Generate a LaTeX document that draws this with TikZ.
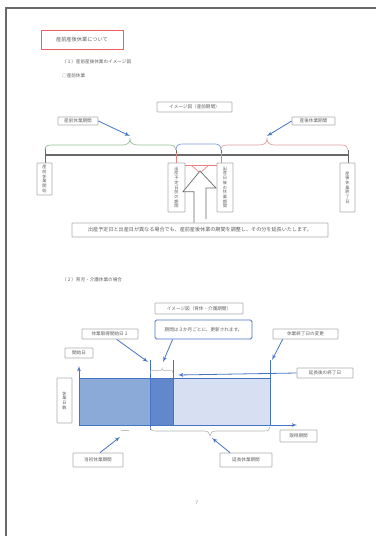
\documentclass[tikz,border=0pt]{standalone}
\usepackage{fontspec}
\setmainfont{Noto Sans CJK JP}
\usetikzlibrary{shapes.geometric, arrows}
\definecolor{docGray}{RGB}{105, 105, 105}
\definecolor{docText}{RGB}{95, 95, 95}
\definecolor{docRed}{RGB}{232, 96, 96}
\definecolor{docBlue}{RGB}{70, 116, 196}
\definecolor{docGreen}{RGB}{150, 190, 150}
\definecolor{docPink}{RGB}{225, 160, 160}
\definecolor{fillMid}{RGB}{140, 170, 215}
\definecolor{fillDark}{RGB}{98, 136, 204}
\definecolor{fillLight}{RGB}{214, 224, 242}

\begin{document}
\begin{tikzpicture}[x=1pt, y=-1pt, font=\fontsize{4.6}{5.2}\selectfont, text=docText]
                    \tikzstyle{block} = [draw=gray!65, fill=white, line width=0.7pt, inner sep=0.8pt, rounded corners=0.6pt, text centered]
                    \tikzstyle{tate} = [block, align=center, font=\fontsize{4.2}{4.7}\selectfont]
                    \tikzstyle{line} = [draw=docBlue, line width=0.8pt, -latex']
                    \tikzstyle{brace} = [draw, line width=0.7pt]

                    \useasboundingbox (0,0) rectangle (376,536);
                    % page frame
                    \draw [docGray, line width=1.3pt] (6,536) -- (6,8) -- (376,8);

                    \node [draw=docRed, line width=0.9pt, minimum width=82pt, minimum height=19pt, font=\fontsize{5.2}{6}\selectfont] (title) at (82,40) {産前産後休業について};
                    \node [anchor=west, inner sep=0pt] (sub1) at (62,62) {（１）産前産後休業のイメージ図};
                    \node [anchor=west, inner sep=0pt] (sub1b) at (62,76) {○産前休業};

                    % timeline
                    \node [block, minimum width=75pt, minimum height=10pt] (tlhead) at (194.5,107) {イメージ図（産前期間）};
                    \node [block, minimum width=40pt, minimum height=8pt] (prelbl) at (78,121) {産前休業期間};
                    \node [block, minimum width=43pt, minimum height=8pt] (postlbl) at (313.5,121) {産後休業期間};

                    \coordinate (tlL) at (45,155);
                    \coordinate (tlR) at (348,155);
                    \coordinate (tlA) at (176,155);
                    \coordinate (tlB) at (221,155);
                    \draw [docGray, line width=1.1pt] (tlL) -- (tlR);
                    \draw [docGray, line width=0.8pt] ([yshift=-8pt]tlL) -- ([yshift=7pt]tlL);
                    \draw [docGray, line width=0.8pt] ([yshift=-15pt]tlR) -- ([yshift=5pt]tlR);
                    \draw [docGray, line width=0.8pt] ([yshift=-22pt]tlA) -- ([yshift=5pt]tlA);
                    \draw [docGray, line width=0.8pt] ([yshift=-22pt]tlB) -- ([yshift=5pt]tlB);

                    % braces over the timeline
                    \draw [brace, docGreen] (45,150) .. controls (45,146) and (47,145) .. (52,145) -- (122,145) .. controls (127,145) and (130,143) .. (130,139) .. controls (130,143) and (133,145) .. (138,145) -- (170,145) .. controls (174,145) and (176,147) .. (176,150);
                    \draw [brace, docBlue!70] (176,150) .. controls (176,146) and (178,144) .. (182,144) -- (215,144) .. controls (219,144) and (221,146) .. (221,150);
                    \draw [brace, docPink] (221,150) .. controls (221,146) and (223,145) .. (228,145) -- (259,145) .. controls (264,145) and (267,143) .. (267,139) .. controls (267,143) and (270,145) .. (275,145) -- (342,145) .. controls (346,145) and (348,147) .. (348,150);
                    \coordinate (pretip) at (130,136);
                    \coordinate (posttip) at (267,136);
                    \path [line] (prelbl.east) -- (pretip);
                    \path [line] (postlbl.west) -- (posttip);

                    % vertical labels
                    \node [tate, minimum width=15pt, minimum height=32pt] (v1) at (44.5,179) {産\\前\\休\\業\\開\\始};
                    \node [tate, minimum width=17pt, minimum height=49pt] (v2) at (176.5,187.5) {出\\産\\予\\定\\日\\前\\の\\期\\間};
                    \node [tate, minimum width=16pt, minimum height=49pt] (v3) at (225,187.5) {出\\産\\日\\後\\の\\休\\業\\期\\間};
                    \node [tate, minimum width=15pt, minimum height=49pt] (v4) at (347.5,187.5) {産\\後\\休\\業\\終\\了\\日};

                    % red marks
                    \draw [docRed!80, line width=0.6pt] ([yshift=2pt]tlA) -- (v2.north -| tlA);
                    \draw [docRed!80, line width=0.6pt] ([yshift=2pt]tlB) -- (v3.north -| tlB);
                    \coordinate (redtip) at (200,173);
                    \draw [docRed!80, line width=0.6pt] (185,165) -- (217,165);
                    \draw [docRed!80, line width=0.6pt] (191,165) -- (redtip) -- (209,165);

                    \node [block, minimum width=256pt, minimum height=14pt, font=\fontsize{5.1}{6}\selectfont] (note) at (200,230) {出産予定日と出産日が異なる場合でも、産前産後休業の期間を調整し、その分を延長いたします。};
                    % hollow arrow up to the marks
                    \draw [docGray, line width=0.7pt, fill=white] ([xshift=-6pt]note.north) -- ++(0,-31) -- ++(-11,0) -- ([yshift=2pt]redtip) -- ++(16,17) -- ++(-10,0) -- ++(0,31);

                    % second part
                    \node [anchor=west, inner sep=0pt] (sub2) at (62,280) {（２）育児・介護休業の場合};
                    \node [block, minimum width=88pt, minimum height=11pt] (ghead) at (199,308.5) {イメージ図（育休・介護期間）};
                    \node [block, draw=docBlue, line width=0.9pt, rounded corners=1.5pt, minimum width=97pt, minimum height=19pt] (gnote) at (203.5,329.5) {期間は３か月ごとに、更新されます。};
                    \node [block, minimum width=56pt, minimum height=10pt] (gstart) at (110,334) {休業取得開始日１};
                    \node [block, minimum width=28pt, minimum height=10pt] (gday) at (79,353) {開始日};
                    \node [block, minimum width=65pt, minimum height=10pt] (gend) at (305.5,334) {休業終了日の変更};
                    \node [block, minimum width=56pt, minimum height=10pt] (gext) at (325,373) {延長後の終了日};

                    % graph
                    \fill [fillMid] (79,378) rectangle (150,425);
                    \fill [fillDark] (150,378) rectangle (173,425);
                    \fill [fillLight] (173,378) rectangle (270,425);
                    \draw [docBlue, line width=0.8pt] (79,378) rectangle (270,425);
                    \coordinate (org) at (79,425);
                    \coordinate (ytop) at (79,366);
                    \coordinate (xend) at (297,425);
                    \path [line] (org) -- (ytop);
                    \path [line] (org) -- (xend);
                    \draw [docBlue, line width=0.7pt] (150,360) -- (150,430);
                    \draw [docBlue, line width=0.7pt] (173,360) -- (173,425);
                    \draw [docBlue, line width=0.7pt] (270,360) -- (270,425);
                    \coordinate (extpt) at (178,375);
                    \path [line] (gext.west) -- (extpt);
                    \draw [brace, gray!60, line width=0.5pt] (150,373) .. controls (150,371) and (151,370.5) .. (153,370.5) -- (160,370.5) .. controls (161.5,370.5) and (162,370) .. (162,368) .. controls (162,370) and (162.5,370.5) .. (164,370.5) -- (171,370.5) .. controls (172,370.5) and (173,371) .. (173,373);
                    \draw [brace, gray!60, line width=0.6pt] (150,427) .. controls (150,430) and (152,431) .. (156,431) -- (204,431) .. controls (208,431) and (210,433) .. (210,436) .. controls (210,433) and (212,431) .. (216,431) -- (264,431) .. controls (268,431) and (270,430) .. (270,427);
                    \draw [gray!50, line width=0.5pt] (121,430) -- (129,430);

                    \path [line] ([xshift=35pt]gstart.south west) -- (148,362);
                    \path [line] ([xshift=18pt]gnote.south west) -- (163,362);
                    \path [line] ([xshift=10pt]gend.south west) -- (272,360);

                    \node [tate, minimum width=15pt, minimum height=45pt] (gy) at (64.5,400.5) {休\\業\\日\\数};
                    \node [block, minimum width=37pt, minimum height=12pt] (gx) at (298.5,436) {取得期間};
                    \node [block, minimum width=50pt, minimum height=14pt] (gfirst) at (98,460) {当初休業期間};
                    \node [block, minimum width=52pt, minimum height=14pt] (glong) at (246,460) {延長休業期間};
                    \coordinate (firsttip) at (120,437);
                    \coordinate (longtip) at (212,438);
                    \path [line] ([xshift=2pt]gfirst.north) -- (firsttip);
                    \path [line] ([xshift=-16pt]glong.north) -- (longtip);

                    \node [inner sep=0pt, text=gray] (pageno) at (197,503) {7};
                \end{tikzpicture}
\end{document}
